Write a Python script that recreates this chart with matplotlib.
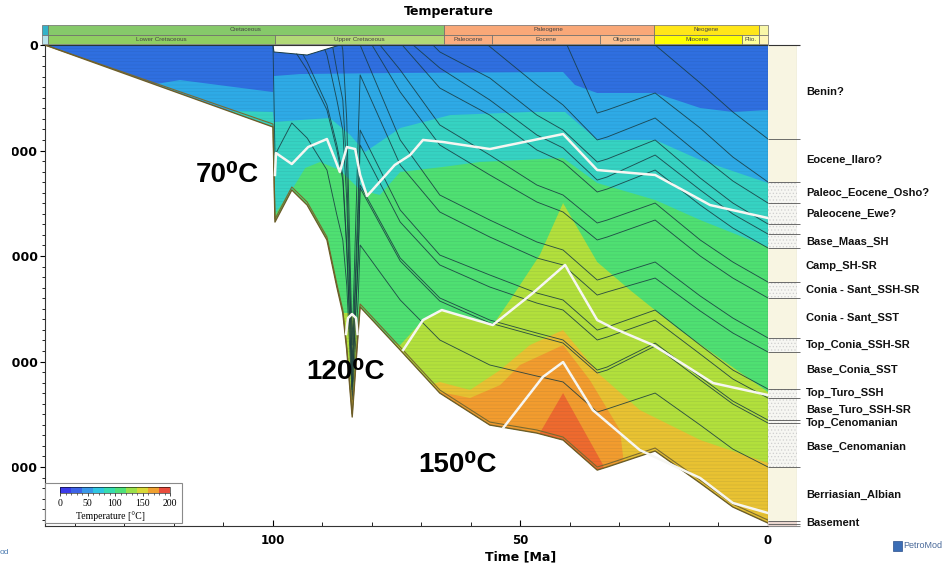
import matplotlib
matplotlib.use("Agg")
import matplotlib.pyplot as plt
from matplotlib.patches import Polygon, Rectangle
from matplotlib.colors import ListedColormap, BoundaryNorm
from matplotlib.ticker import MultipleLocator
import matplotlib.colorbar as mcolorbar

plt.rcParams['hatch.linewidth'] = 0.5

# ---------------- data (time in Ma, depth in m) ----------------
TOP_T = [146.06, 100.0, 99.8, 93.1, 86.5, 0.0]
TOP_D = [0, 0, 66, 95, 0, 0]

BASE_T = [146.06, 100.0, 99.6, 96.2, 93.1, 89.1, 87.1, 85.9, 85.1, 84.0, 82.8, 82.4,
          74.3, 66.3, 56.2, 46.7, 41.4, 34.5, 32.5, 22.8, 13.7, 7.1, 0.0]
BASE_D = [0, 777, 1678, 1374, 1517, 1848, 2294, 2540, 2891, 3526, 2730, 2483,
          2891, 3299, 3602, 3678, 3744, 4029, 4000, 3848, 4152, 4379, 4531]

H01_T = [22.8, 13.7, 7.1, 0.0]
H01_D = [0, 360, 635, 891]
H02_T = [40.6, 34.5, 32.5, 22.8, 13.7, 7.1, 0.0]
H02_D = [0, 645, 616, 455, 787, 1062, 1299]
H03_T = [56.6, 46.7, 41.4, 34.5, 32.5, 22.8, 13.7, 7.1, 0.0]
H03_D = [0, 379, 569, 900, 872, 692, 1043, 1289, 1498]
H04_T = [67.7, 66.3, 56.2, 46.7, 41.4, 34.5, 32.5, 22.8, 13.7, 7.1, 0.0]
H04_D = [0, 66, 313, 664, 806, 1109, 1081, 900, 1261, 1498, 1697]
H05_T = [71.7, 66.3, 56.2, 46.7, 41.4, 34.5, 32.5, 22.8, 13.7, 7.1, 0.0]
H05_D = [0, 218, 521, 853, 976, 1280, 1251, 1043, 1374, 1602, 1792]
H06_T = [73.9, 66.3, 56.2, 46.7, 41.4, 34.5, 32.5, 22.8, 13.7, 7.1, 0.0]
H06_D = [0, 408, 664, 995, 1109, 1393, 1365, 1185, 1517, 1735, 1924]
H07_T = [78.4, 74.3, 66.3, 56.2, 46.7, 41.4, 34.5, 32.5, 22.8, 13.7, 7.1, 0.0]
H07_D = [0, 237, 758, 1043, 1327, 1422, 1687, 1659, 1498, 1848, 2057, 2247]
H08_T = [80.0, 74.3, 66.3, 56.2, 46.7, 41.4, 34.5, 32.5, 22.8, 13.7, 7.1, 0.0]
H08_D = [0, 446, 948, 1232, 1488, 1583, 1848, 1820, 1659, 2000, 2209, 2398]
H09_T = [82.4, 74.3, 66.3, 56.2, 46.7, 41.4, 34.5, 32.5, 22.8, 13.7, 7.1, 0.0]
H09_D = [0, 900, 1422, 1659, 1867, 1943, 2228, 2199, 2057, 2379, 2588, 2777]
H10_T = [86.1, 85.9, 85.1, 84.0, 82.8, 82.4, 74.3, 66.3, 56.2, 46.7, 41.4, 34.5, 32.5,
         22.8, 13.7, 7.1, 0.0]
H10_D = [0, 47, 711, 2844, 900, 284, 1137, 1583, 1820, 2019, 2085, 2370, 2341,
         2209, 2521, 2730, 2910]
H11_T = [87.9, 87.1, 85.9, 85.1, 84.0, 82.8, 82.4, 74.3, 66.3, 56.2, 46.7, 41.4, 34.5,
         32.5, 22.8, 13.7, 7.1, 0.0]
H11_D = [28, 237, 521, 1185, 3033, 1469, 806, 1564, 1991, 2180, 2351, 2417, 2702,
         2673, 2512, 2844, 3081, 3261]
H12_T = [89.5, 89.1, 87.1, 85.9, 85.1, 84.0, 82.8, 82.4, 74.3, 66.3, 56.2, 46.7, 41.4,
         34.5, 32.5, 22.8, 13.7, 7.1, 0.0]
H12_D = [47, 95, 521, 806, 1469, 3128, 1659, 948, 1678, 2085, 2294, 2446, 2512,
         2796, 2768, 2607, 2929, 3166, 3346]
H13_T = [93.9, 93.1, 89.1, 87.1, 85.9, 85.1, 84.0, 82.8, 82.4, 74.3, 66.3, 56.2, 46.7,
         41.4, 34.5, 32.5, 22.8, 13.7, 7.1, 0.0]
H13_D = [95, 161, 569, 948, 1232, 1896, 3242, 2019, 1327, 2019, 2398, 2607, 2730,
         2796, 3081, 3052, 2825, 3147, 3375, 3555]
H14_T = [95.2, 93.1, 89.1, 87.1, 85.9, 85.1, 84.0, 82.8, 82.4, 74.3, 66.3, 56.2, 46.7,
         41.4, 34.5, 32.5, 22.8, 13.7, 7.1, 0.0]
H14_D = [85, 237, 616, 995, 1280, 1943, 3270, 2038, 1355, 2047, 2427, 2635, 2758,
         2825, 3109, 3081, 2853, 3175, 3403, 3583]
H15_T = [100.0, 99.6, 96.2, 93.1, 89.1, 87.1, 85.9, 85.1, 84.0, 82.8, 82.4, 74.3, 66.3,
         56.2, 46.7, 41.4, 34.5, 32.5, 22.8, 13.7, 7.1, 0.0]
H15_D = [0, 1043, 739, 882, 1185, 1611, 1848, 2275, 3365, 2417, 1896, 2417, 2796,
         3033, 3138, 3194, 3479, 3450, 3299, 3602, 3830, 4000]
H16_T = [146.06, 100.0, 99.6, 96.2, 93.1, 89.1, 87.1, 85.9, 85.1, 84.0, 82.8, 82.4,
         74.3, 66.3, 56.2, 46.7, 41.4, 34.5, 32.5, 22.8, 13.7, 7.1, 0.0]
H16_D = [0, 749, 1649, 1346, 1488, 1820, 2265, 2512, 2863, 3498, 2702, 2455,
         2863, 3270, 3574, 3649, 3716, 4000, 3972, 3820, 4123, 4351, 4503]

# isotherm band boundaries (upper edge of each warmer band)
ISO1_T = [146.06, 134.9, 124.8, 118.8, 100.0, 99.8, 94.5, 74.3, 41.4, 39.0, 34.5, 22.8, 13.7, 7.1, 0.0]
ISO1_D = [142, 284, 379, 332, 446, 294, 275, 265, 256, 379, 455, 455, 597, 635, 616]
ISO2_T = [146.06, 114.7, 100.0, 99.8, 94.5, 88.5, 84.4, 81.4, 78.4, 74.3, 64.2, 48.1, 41.0, 34.5, 22.8, 13.7, 0.0]
ISO2_D = [1469, 616, 635, 730, 711, 692, 853, 1014, 919, 787, 664, 635, 635, 900, 900, 1090, 1308]
ISO3_T = [146.06, 100.0, 99.8, 96.2, 93.5, 90.5, 86.5, 82.4, 78.4, 74.3, 65.7, 58.2, 41.4, 34.5, 22.8, 13.7, 0.0]
ISO3_D = [5260, 5260, 1611, 1374, 1166, 1109, 1185, 1374, 1422, 1204, 1156, 1109, 1071, 1308, 1469, 1659, 1915]
ISO4_T = [146.06, 86.5, 85.9, 84.0, 82.8, 82.4, 74.3, 69.7, 65.9, 55.6, 52.1, 46.1, 41.4,
          34.5, 27.9, 17.8, 0.0]
ISO4_D = [5260, 5260, 2540, 2540, 2702, 2702, 2844, 2607, 2512, 2654, 2417, 1991, 1498,
          2057, 2322, 2702, 3289]
ISO5_T = [146.06, 85.6, 84.8, 83.4, 83.0, 74.3, 71.3, 66.3, 60.2, 54.1, 48.1, 41.4, 33.9, 25.9, 13.7, 0.0]
ISO5_D = [5260, 5260, 3270, 3270, 5260, 5260, 3270, 3194, 3270, 3081, 2844, 2702, 3128, 3460, 3744, 3962]
ISO6_T = [146.06, 68.3, 66.3, 60.2, 54.1, 50.1, 41.4, 36.0, 29.9, 25.9, 0.0]
ISO6_D = [5260, 5260, 3289, 3346, 3223, 3033, 2844, 3175, 3650, 5260, 5260]
ISO7_T = [146.06, 47.3, 46.1, 41.4, 33.3, 31.5, 0.0]
ISO7_D = [5260, 5260, 3678, 3299, 3981, 5260, 5260]

BAND_COLORS = ['#2f6fe0', '#2eaae6', '#36d3c2', '#4fe072', '#b2e03c',
               '#e8c232', '#f29c2e', '#ee6a2e']

# white marker lines
W70_T = [99.6, 99.4, 96.2, 92.9, 89.1, 87.5, 86.5, 85.1, 83.4, 82.4, 81.0, 75.4, 72.3,
         69.7, 65.7, 56.2, 41.4, 34.5, 22.8, 11.7, 0.0]
W70_D = [1232, 1024, 1128, 967, 891, 1081, 1204, 967, 986, 1232, 1431, 1137, 1043,
         900, 919, 986, 844, 1185, 1232, 1517, 1640]
W120A_T = [85.25, 84.85, 84.04, 83.23, 82.93]
W120A_D = [2739, 2588, 2550, 2588, 2739]
W120B_T = [73.7, 69.7, 65.9, 55.6, 47.5, 41.0, 34.5, 31.3, 23.2, 11.1, 0.0]
W120B_D = [2891, 2607, 2512, 2654, 2351, 2085, 2607, 2683, 2844, 3204, 3318]
W150_T = [53.5, 45.5, 41.4, 35.4, 25.9, 13.7, 7.1, 0.0]
W150_D = [3630, 3147, 3005, 3460, 3839, 4104, 4341, 4436]

ANNOT_TEXT = ['70⁰C', '120⁰C', '150⁰C']

# present-day layer column
LAYER_NAMES = ['Benin?', 'Eocene_Ilaro?', 'Paleoc_Eocene_Osho?', 'Paleocene_Ewe?',
               'Base_Maas_SH', 'Camp_SH-SR', 'Conia - Sant_SSH-SR', 'Conia - Sant_SST',
               'Top_Conia_SSH-SR', 'Base_Conia_SST', 'Top_Turo_SSH', 'Base_Turo_SSH-SR',
               'Top_Cenomanian', 'Base_Cenomanian', 'Berriasian_Albian', 'Basement']
LABEL_D = [446, 1090, 1403, 1602, 1867, 2095, 2322, 2588, 2844, 3081, 3299, 3460,
           3583, 3811, 4266, 4531]
COL_TOP = [0, 891, 1299, 1498, 1697, 1792, 1924, 2247, 2398, 2777, 2910, 3261, 3346,
           3555, 3583, 4000, 4512]
COL_BOT = [891, 1299, 1498, 1697, 1792, 1924, 2247, 2398, 2777, 2910, 3261, 3346, 3555,
           3583, 4000, 4512, 4559]
COL_KIND = [0, 0, 1, 1, 1, 1, 0, 1, 0, 1, 0, 1, 1, 1, 1, 0, 2]
COL_BOUNDS = [891, 1299, 1498, 1697, 1792, 1924, 2247, 2398, 2777, 2910, 3261, 3346,
              3555, 3583, 4000, 4512, 4540]

# geologic time header
PERIODS = ['', 'Cretaceous', 'Paleogene', 'Neogene', '']
PERIOD_START = [146.6, 145.5, 65.5, 23.03, 1.81]
PERIOD_END = [145.5, 65.5, 23.03, 1.81, 0.0]
PERIOD_COLORS = ['#34b2c9', '#86c96a', '#f9a878', '#ffe619', '#f9f7a8']
EPOCHS = ['', 'Lower Cretaceous', 'Upper Cretaceous', 'Paleocene', 'Eocene',
          'Oligocene', 'Miocene', 'Plio.', '']
EPOCH_START = [146.6, 145.5, 99.6, 65.5, 55.8, 33.9, 23.03, 5.33, 1.81]
EPOCH_END = [145.5, 99.6, 65.5, 55.8, 33.9, 23.03, 5.33, 1.81, 0.0]
EPOCH_COLORS = ['#b9e3ec', '#8fce62', '#b2d977', '#fcae80', '#fcb585', '#fdc190',
                '#ffff00', '#ffff99', '#fff6b8']

# legend colour scale
CB_BOUNDS = [0, 20, 40, 60, 80, 100, 120, 140, 160, 180, 200]
CB_COLORS = ['#3b3be8', '#3d63e6', '#3a98e8', '#30c6e2', '#36dcb0', '#4ee07a',
             '#9be04a', '#d8d838', '#f0a030', '#e84c3c']
CB_TICKS = [0, 50, 100, 150, 200]

# ---------------- figure ----------------
W, H = 951, 563
fig = plt.figure(figsize=(W / 100, H / 100), dpi=100)
fig.patch.set_facecolor('white')


def fx(px):
    return px / W


def fy(py):
    return 1 - py / H


def box(x0, y0, x1, y1):
    return [fx(x0), fy(y1), fx(x1) - fx(x0), fy(y0) - fy(y1)]


SANS = ['Liberation Sans', 'DejaVu Sans']
T_MAX = 146.06
D_MAX = 4559

ax = fig.add_axes(box(45, 45, 768, 526))
ax.set_xlim(T_MAX, 0)
ax.set_ylim(D_MAX, 0)

sed_pts = list(zip(TOP_T, TOP_D)) + list(zip(BASE_T[::-1], BASE_D[::-1]))
sed = Polygon(sed_pts, closed=True, facecolor=BAND_COLORS[0], edgecolor='none', zorder=1)
ax.add_patch(sed)

isos = [(ISO1_T, ISO1_D), (ISO2_T, ISO2_D), (ISO3_T, ISO3_D), (ISO4_T, ISO4_D),
        (ISO5_T, ISO5_D), (ISO6_T, ISO6_D), (ISO7_T, ISO7_D)]
for (tt, dd), col in zip(isos, BAND_COLORS[1:]):
    pts = list(zip(tt, dd)) + [(tt[-1], 9000), (tt[0], 9000)]
    p = Polygon(pts, closed=True, facecolor=col, edgecolor='none', zorder=2)
    ax.add_patch(p)
    p.set_clip_path(sed)

# faint lithology texture
tex = Polygon(sed_pts, closed=True, facecolor='none', edgecolor=(0.1, 0.2, 0.3, 0.10),
              hatch='-----', lw=0, zorder=3)
ax.add_patch(tex)

horizons = [(H01_T, H01_D), (H02_T, H02_D), (H03_T, H03_D), (H04_T, H04_D),
            (H05_T, H05_D), (H06_T, H06_D), (H07_T, H07_D), (H08_T, H08_D),
            (H09_T, H09_D), (H10_T, H10_D), (H11_T, H11_D), (H12_T, H12_D),
            (H13_T, H13_D), (H14_T, H14_D), (H15_T, H15_D)]
for tt, dd in horizons:
    ax.plot(tt, dd, color='#183a40', lw=0.65, alpha=0.85, zorder=4)
ax.plot(TOP_T, TOP_D, color='#183a40', lw=0.7, zorder=4)
ax.plot(H16_T, H16_D, color='#7a6a30', lw=0.8, zorder=4)
ax.plot(BASE_T, BASE_D, color='#6e5e28', lw=1.0, zorder=4)

for tt, dd in [(W70_T, W70_D), (W120A_T, W120A_D), (W120B_T, W120B_D), (W150_T, W150_D)]:
    ax.plot(tt, dd, color='#f6f6f2', lw=1.8, zorder=5, solid_joinstyle='round')

for s in ax.spines.values():
    s.set_color('#333333')
    s.set_linewidth(0.8)
ax.set_xticks([100, 50, 0])
ax.xaxis.set_minor_locator(MultipleLocator(10))
ax.set_yticks([0, 1000, 2000, 3000, 4000])
ax.yaxis.set_minor_locator(MultipleLocator(100))
ax.tick_params(axis='x', which='major', direction='in', length=4, pad=6, labelsize=8.5)
ax.tick_params(axis='x', which='minor', direction='in', length=3)
ax.tick_params(axis='y', which='major', direction='out', length=3.6, pad=1.5, labelsize=9)
ax.tick_params(axis='y', which='minor', direction='out', length=2)
for lab in ax.get_xticklabels() + ax.get_yticklabels():
    lab.set_fontweight('bold')

fig.text(fx(521), fy(557), 'Time [Ma]', ha='center', va='center',
         fontsize=9, fontweight='bold')
fig.text(fx(449), fy(11), 'Temperature', ha='center', va='center',
         fontsize=9, fontweight='bold')

# header (geologic time scale)
axh = fig.add_axes(box(45, 25, 768, 44))
axh.set_xlim(T_MAX, 0)
axh.set_ylim(0, 2)
axh.axis('off')
for name, t0, t1, col in zip(PERIODS, PERIOD_START, PERIOD_END, PERIOD_COLORS):
    axh.add_patch(Rectangle((t1, 1), t0 - t1, 1, facecolor=col, edgecolor='#6a6a6a',
                            lw=0.5, clip_on=False))
    axh.text((t0 + t1) / 2, 1.5, name, ha='center', va='center', fontsize=4.5,
             color='#444444', family=SANS)
for name, t0, t1, col in zip(EPOCHS, EPOCH_START, EPOCH_END, EPOCH_COLORS):
    axh.add_patch(Rectangle((t1, 0), t0 - t1, 1, facecolor=col, edgecolor='#6a6a6a',
                            lw=0.5, clip_on=False))
    axh.text((t0 + t1) / 2, 0.5, name, ha='center', va='center', fontsize=4.5,
             color='#444444', family=SANS)

# present-day layer column
axc = fig.add_axes(box(768, 45, 797, 526))
axc.set_xlim(0, 1)
axc.set_ylim(D_MAX, 0)
axc.axis('off')
for top, bot, kind in zip(COL_TOP, COL_BOT, COL_KIND):
    if kind == 0:
        axc.add_patch(Rectangle((0, top), 1, bot - top, facecolor='#f8f5e2', lw=0))
    elif kind == 1:
        axc.add_patch(Rectangle((0, top), 1, bot - top, facecolor='#f6f6f2',
                                edgecolor='#cfcfcf', hatch='.....', lw=0))
    else:
        axc.add_patch(Rectangle((0, top), 1, bot - top, facecolor='#ead6cf', lw=0))
axc.plot([1, 1], [0, D_MAX], color='#9a9a9a', lw=0.8)
axc.hlines(COL_BOUNDS, 0, 1.12, colors='#555555', lw=0.6, clip_on=False)
axc.hlines([0], 0, 1.12, colors='#333333', lw=0.8, clip_on=False)
axc.hlines([D_MAX], 0, 1.12, colors='#888888', lw=0.8, clip_on=False)
yt = axc.get_yaxis_transform()
for name, d in zip(LAYER_NAMES, LABEL_D):
    axc.text(1.31, d, name, transform=yt, ha='left', va='center', fontsize=8,
             fontweight='bold', family=SANS, clip_on=False, color='#111111')

# temperature annotations
for txt, (px, py) in zip(ANNOT_TEXT, [(227, 175), (345, 372), (458, 465)]):
    fig.text(fx(px), fy(py), txt, ha='center', va='center', fontsize=20,
             fontweight='bold', family=SANS, color='black', zorder=6)

# legend box with colour scale
fig.add_artist(Rectangle((fx(45), fy(523)), fx(182) - fx(45), fy(483) - fy(523),
                         transform=fig.transFigure, facecolor='white',
                         edgecolor='#8a8a8a', lw=0.8, zorder=5))
cax = fig.add_axes(box(60, 487, 170, 493))
cax.set_zorder(10)
cmap = ListedColormap(CB_COLORS)
norm = BoundaryNorm(CB_BOUNDS, cmap.N)
cb = mcolorbar.ColorbarBase(cax, cmap=cmap, norm=norm, orientation='horizontal',
                            ticks=CB_TICKS)
cb.outline.set_linewidth(0.4)
cax.xaxis.set_minor_locator(MultipleLocator(10))
cax.tick_params(which='major', length=2.5, width=0.5, pad=1.5, labelsize=7)
cax.tick_params(which='minor', length=1.5, width=0.4)
for lab in cax.get_xticklabels():
    lab.set_family(['Liberation Serif', 'DejaVu Serif'])
fig.text(fx(110), fy(516), 'Temperature [°C]', ha='center', va='center', fontsize=7,
         family=['Liberation Serif', 'DejaVu Serif'], zorder=11)

# PetroMod marks
fig.add_artist(Rectangle((fx(893), fy(551)), fx(9), fy(541) - fy(551),
                         transform=fig.transFigure, facecolor='#3b6db5',
                         edgecolor='#2a4f8a', lw=0.5))
fig.text(fx(903), fy(546), 'PetroMod', ha='left', va='center', fontsize=6.5,
         color='#4a6a9a', family=SANS)
fig.text(fx(0), fy(553), 'od', ha='left', va='center', fontsize=6,
         color='#4a7ab0', family=SANS)

# emulate the cropped left edge of the original picture
fig.add_artist(Rectangle((0, fy(480)), fx(12), fy(130) - fy(480),
                         transform=fig.transFigure, facecolor='white',
                         edgecolor='none', zorder=50))

fig.savefig('out.png', dpi=100)
